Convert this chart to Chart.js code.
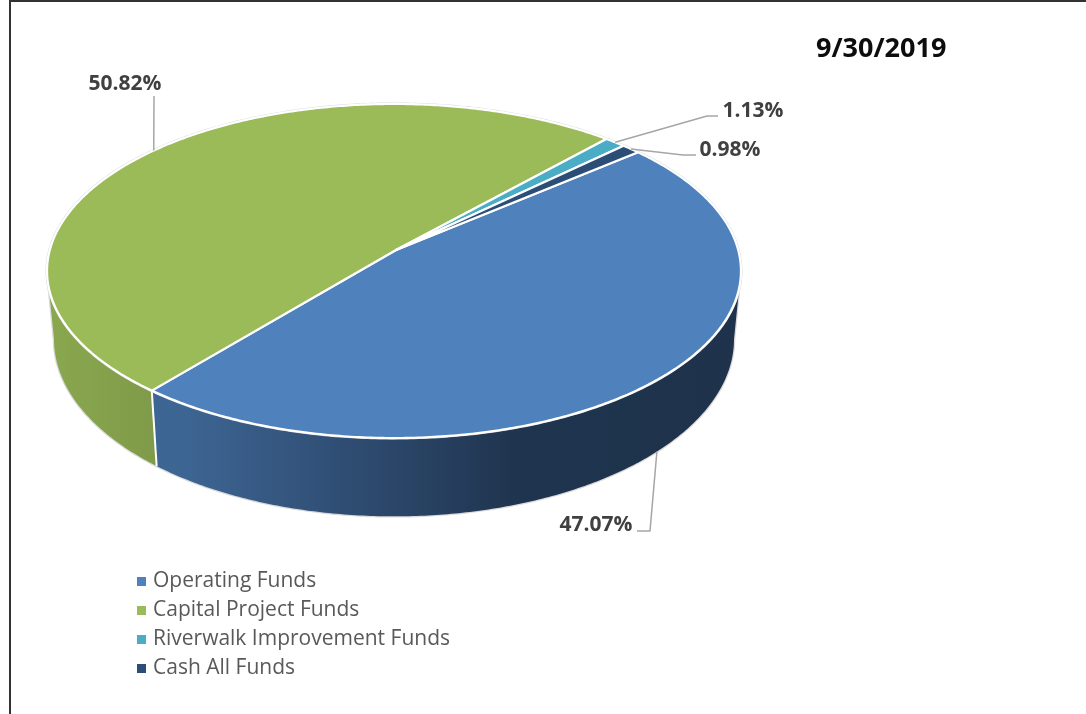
<!DOCTYPE html>
<html>
<head>
<meta charset="utf-8">
<title>Funds 9/30/2019</title>
<script src="https://cdn.jsdelivr.net/npm/chart.js@4"></script>
<style>
  html, body { margin: 0; padding: 0; background: #fff; overflow: hidden; }
  #wrap { position: relative; width: 1086px; height: 714px; }
  #frame { position: absolute; left: 9px; top: 0; right: -4px; bottom: -4px; border: 2.5px solid #333; pointer-events: none; }
  canvas { display: block; }
</style>
</head>
<body>
<div id="wrap">
  <canvas id="fundsChart" width="1086" height="714"></canvas>
  <div id="frame"></div>
</div>
<script>
const categories = ['Operating Funds', 'Capital Project Funds', 'Riverwalk Improvement Funds', 'Cash All Funds'];
const shares = [47.07, 50.82, 1.13, 0.98];
const sliceColors = ['#4f81bd', '#9bbb59', '#4bacc6', '#2c4d75'];
const chartTitle = '9/30/2019';

// leader line bends and label spots, same order as categories
const leaderPaths = [
  [[650, 531], [637, 531]],
  [[154, 96]],
  [[707, 116], [718, 116]],
  [[683, 155], [696, 155]]
];
const labelSpots = [[596, 525], [125, 84], [753, 111], [730, 150]];

// perspective of the disc: near edge is bigger, so the center sits above the ellipse middle
const topDisc = { cx: 394, cy: 250, a: 344.2, b: 164.4, k: 0.1257 };
const lowDisc = { cx: 394, cy: 317, a: 337.3, b: 174.3, k: 0.1257 };
const apexX = 396;

function project(d, angle) {
  const u = Math.cos(angle), v = Math.sin(angle);
  const w = 1 - d.k * v;
  return [d.cx + d.a * u / w, d.cy + d.b * v / w];
}

function rimPoints(d, from, to) {
  const pts = [];
  const steps = Math.max(2, Math.ceil(Math.abs(to - from) / 0.01));
  for (let i = 0; i <= steps; i++) {
    pts.push(project(d, from + (to - from) * i / steps));
  }
  return pts;
}

function tracePts(ctx, pts, start) {
  pts.forEach((p, i) => {
    if (i === 0 && start) ctx.moveTo(p[0], p[1]);
    else ctx.lineTo(p[0], p[1]);
  });
}

function sideGradient(ctx, stops) {
  const g = ctx.createLinearGradient(47, 0, 741, 0);
  stops.forEach(s => g.addColorStop(s[0], s[1]));
  return g;
}

// small square for the legend, the built in box leaves too big a gap to the text
function swatch(color) {
  const c = document.createElement('canvas');
  c.width = 9;
  c.height = 9;
  const g = c.getContext('2d');
  g.fillStyle = color;
  g.fillRect(0, 0, 9, 9);
  return c;
}

const pie3d = {
  id: 'pie3d',
  afterLayout(chart) {
    const lg = chart.legend;
    lg.left = 131.5; lg.right = 480; lg.top = 563; lg.bottom = 692;
    const t = chart.titleBlock;
    t.left = 816; t.right = 960; t.top = 33; t.bottom = 71;
  },
  beforeDatasetsDraw(chart) {
    const ctx = chart.ctx;
    const arcs = chart.getDatasetMeta(0).data;
    const limitA = Math.asin(topDisc.k), limitB = Math.PI - limitA;

    // the wall: only the part of each slice facing the viewer
    const walls = [
      { i: 1, fill: sideGradient(ctx, [[0, '#8aa84f'], [0.16, '#7f9a49'], [1, '#7f9a49']]) },
      { i: 0, fill: sideGradient(ctx, [[0, '#3f6997'], [0.2, '#3d6593'], [0.45, '#2e4b70'], [0.68, '#1f344e'], [1, '#1e324b']]) }
    ];
    // faint outline round the wall silhouette
    ctx.save();
    ctx.beginPath();
    tracePts(ctx, rimPoints(topDisc, limitA, limitB), true);
    tracePts(ctx, rimPoints(lowDisc, limitB, limitA), false);
    ctx.closePath();
    ctx.strokeStyle = '#d9d9d9';
    ctx.lineWidth = 2.5;
    ctx.stroke();
    walls.forEach(w => {
      const arc = arcs[w.i];
      const from = Math.max(arc.startAngle, limitA);
      const to = Math.min(arc.endAngle, limitB);
      if (to <= from) return;
      ctx.beginPath();
      tracePts(ctx, rimPoints(topDisc, from, to), true);
      tracePts(ctx, rimPoints(lowDisc, to, from), false);
      ctx.closePath();
      ctx.fillStyle = w.fill;
      ctx.fill();
    });
    // white seam where the two walls meet
    const seam = arcs[0].endAngle;
    const s1 = project(topDisc, seam), s2 = project(lowDisc, seam);
    ctx.beginPath();
    ctx.moveTo(s1[0], s1[1]);
    ctx.lineTo(s2[0], s2[1]);
    ctx.strokeStyle = '#fff';
    ctx.lineWidth = 2;
    ctx.stroke();

    // the top face, faint rim first
    ctx.beginPath();
    tracePts(ctx, rimPoints(topDisc, 0, Math.PI * 2), true);
    ctx.closePath();
    ctx.strokeStyle = '#d9d9d9';
    ctx.lineWidth = 3;
    ctx.stroke();
    arcs.forEach((arc, i) => {
      ctx.beginPath();
      ctx.moveTo(apexX, topDisc.cy);
      tracePts(ctx, rimPoints(topDisc, arc.startAngle, arc.endAngle), false);
      ctx.closePath();
      ctx.fillStyle = sliceColors[i];
      ctx.fill();
      ctx.lineJoin = 'round';
      ctx.strokeStyle = '#fff';
      ctx.lineWidth = 2.2;
      ctx.stroke();
    });

    // leader lines and value labels
    ctx.font = 'bold 21px "Open Sans"';
    ctx.textAlign = 'center';
    ctx.textBaseline = 'middle';
    arcs.forEach((arc, i) => {
      const mid = (arc.startAngle + arc.endAngle) / 2;
      const start = i === 0 ? project(lowDisc, mid) : project(topDisc, mid);
      ctx.beginPath();
      ctx.moveTo(start[0], start[1]);
      leaderPaths[i].forEach(p => ctx.lineTo(p[0], p[1]));
      ctx.strokeStyle = '#a6a6a6';
      ctx.lineWidth = 1.5;
      ctx.stroke();
      ctx.fillStyle = '#404040';
      ctx.fillText(shares[i].toFixed(2) + '%', labelSpots[i][0], labelSpots[i][1]);
    });
    ctx.restore();
    return false; // the projected faces replace the flat arcs
  }
};

new Chart(document.getElementById('fundsChart'), {
  type: 'pie',
  data: {
    labels: categories,
    datasets: [{
      data: shares,
      backgroundColor: sliceColors,
      borderWidth: 0
    }]
  },
  options: {
    responsive: false,
    animation: false,
    rotation: 50,
    plugins: {
      tooltip: { enabled: false },
      title: {
        display: true,
        text: chartTitle,
        align: 'start',
        color: '#0d0d0d',
        padding: 0,
        font: { family: '"Open Sans"', size: 27, weight: 'bold' }
      },
      legend: {
        position: 'left',
        align: 'start',
        labels: {
          usePointStyle: true,
          boxWidth: 3,
          boxHeight: 9,
          padding: 8,
          color: '#595959',
          font: { family: '"Open Sans"', size: 21 },
          generateLabels: () => categories.map((text, i) => ({
            text: text,
            fillStyle: sliceColors[i],
            fontColor: '#595959',
            pointStyle: swatch(sliceColors[i]),
            lineWidth: 0,
            hidden: false,
            index: i
          }))
        }
      }
    }
  },
  plugins: [pie3d]
});
</script>
</body>
</html>
